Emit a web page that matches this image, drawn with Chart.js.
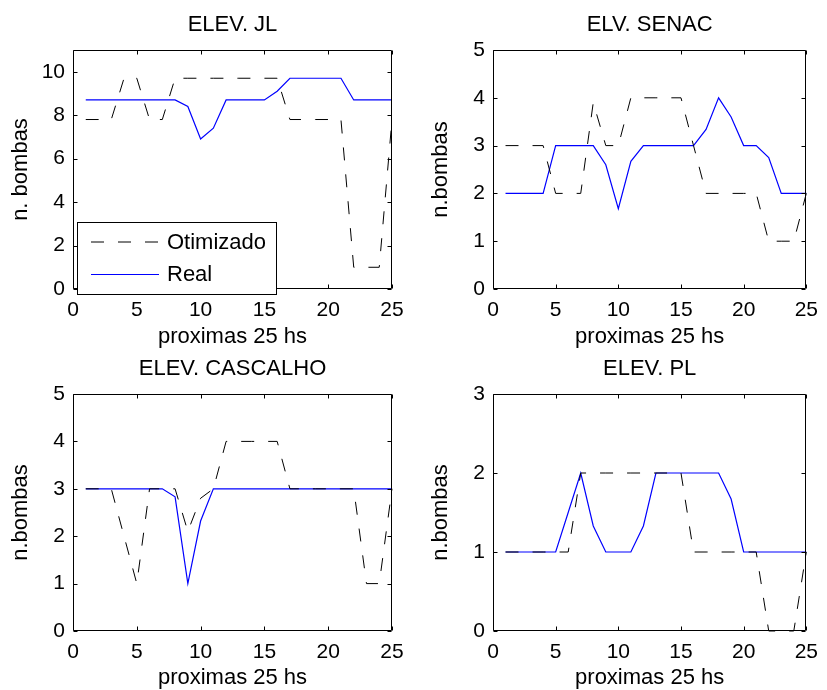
<!DOCTYPE html>
<html lang="pt">
<head>
<meta charset="UTF-8">
<title>n. bombas - proximas 25 hs</title>
<script src="https://cdn.jsdelivr.net/npm/chart.js"></script>
<style>
  body { margin: 0; background: #fff; overflow: hidden; }
  .plot { position: absolute; }
</style>
</head>
<body>
<div class="plot" style="left:0;top:0;width:413px;height:350px"><canvas id="c1"></canvas></div>
<div class="plot" style="left:420px;top:0;width:407px;height:350px"><canvas id="c2"></canvas></div>
<div class="plot" style="left:0;top:345px;width:413px;height:350px"><canvas id="c3"></canvas></div>
<div class="plot" style="left:420px;top:345px;width:407px;height:350px"><canvas id="c4"></canvas></div>

<script>
// hours and x ticks
const hours = [1, 2, 3, 4, 5, 6, 7, 8, 9, 10, 11, 12, 13, 14, 15, 16, 17, 18, 19, 20, 21, 22, 23, 24, 25];
const xTicks = [0, 5, 10, 15, 20, 25];

// ELEV. JL
const jlOtimizado = [7.8, 7.8, 7.8, 9.7, 9.7, 7.8, 7.8, 9.7, 9.7, 9.7, 9.7, 9.7, 9.7, 9.7, 9.7, 9.7, 7.8, 7.8, 7.8, 7.8, 7.8, 1.0, 1.0, 1.0, 7.8];
const jlReal      = [8.7, 8.7, 8.7, 8.7, 8.7, 8.7, 8.7, 8.7, 8.4, 6.9, 7.4, 8.7, 8.7, 8.7, 8.7, 9.1, 9.7, 9.7, 9.7, 9.7, 9.7, 8.7, 8.7, 8.7, 8.7];
const jlTicks = [0, 2, 4, 6, 8, 10];

// ELV. SENAC
const senacOtimizado = [3, 3, 3, 3, 2, 2, 2, 3.9, 3, 3, 4, 4, 4, 4, 4, 3, 2, 2, 2, 2, 2, 1, 1, 1, 2];
const senacReal      = [2, 2, 2, 2, 3, 3, 3, 3, 2.6, 1.68, 2.67, 3, 3, 3, 3, 3, 3.34, 4, 3.6, 3, 3, 2.75, 2, 2, 2];
const senacTicks = [0, 1, 2, 3, 4, 5];

// ELEV. CASCALHO
const cascOtimizado = [3, 3, 3, 2, 1, 3, 3, 3, 2.1, 2.8, 3, 4, 4, 4, 4, 4, 3, 3, 3, 3, 3, 3, 1, 1, 3];
const cascReal      = [3, 3, 3, 3, 3, 3, 3, 2.83, 1, 2.32, 3, 3, 3, 3, 3, 3, 3, 3, 3, 3, 3, 3, 3, 3, 3];
const cascTicks = [0, 1, 2, 3, 4, 5];

// ELEV. PL
const plOtimizado = [1, 1, 1, 1, 1, 1, 2, 2, 2, 2, 2, 2, 2, 2, 2, 1, 1, 1, 1, 1, 1, 0, 0, 0, 1];
const plReal      = [1, 1, 1, 1, 1, 1.5, 2, 1.33, 1, 1, 1, 1.33, 2, 2, 2, 2, 2, 2, 1.67, 1, 1, 1, 1, 1, 1];
const plTicks = [0, 1, 2, 3];

const FONT = '"Liberation Sans", Arial, Helvetica, sans-serif';

// box with inward ticks on all four sides (matlab look)
const boxTicks = {
  id: 'boxTicks',
  afterDraw(chart) {
    const { ctx, chartArea: a, scales: { x, y } } = chart;
    const L = Math.round(a.left) + 0.5, R = Math.round(a.right) - 0.5;
    const T = Math.round(a.top) + 0.5, B = Math.round(a.bottom) - 0.5;
    ctx.save();
    ctx.strokeStyle = '#000';
    ctx.lineWidth = 1;
    ctx.beginPath();
    ctx.rect(L, T, R - L, B - T);
    x.ticks.forEach(t => {
      const px = Math.round(x.getPixelForValue(t.value)) + 0.5;
      ctx.moveTo(px, B); ctx.lineTo(px, B - 4);
      ctx.moveTo(px, T); ctx.lineTo(px, T + 4);
    });
    y.ticks.forEach(t => {
      const py = Math.round(y.getPixelForValue(t.value)) + 0.5;
      ctx.moveTo(L, py); ctx.lineTo(L + 4, py);
      ctx.moveTo(R, py); ctx.lineTo(R - 4, py);
    });
    ctx.stroke();
    ctx.restore();
  }
};

// legend box in the lower left corner
const boxLegend = {
  id: 'boxLegend',
  afterDraw(chart, args, opts) {
    if (!opts.show) return;
    const { ctx, chartArea: a } = chart;
    const left = Math.round(a.left) + 4, top = Math.round(a.bottom) - 67;
    const w = 199, h = 72;
    ctx.save();
    ctx.fillStyle = '#fff';
    ctx.fillRect(left, top, w, h);
    ctx.strokeStyle = '#000';
    ctx.lineWidth = 1;
    ctx.strokeRect(left + 0.5, top + 0.5, w, h);
    chart.data.datasets.forEach((ds, i) => {
      const yy = top + 20 + i * 32.5;
      ctx.beginPath();
      ctx.setLineDash(ds.borderDash || []);
      ctx.strokeStyle = ds.borderColor;
      ctx.lineWidth = ds.borderWidth;
      ctx.moveTo(left + 14, yy);
      ctx.lineTo(left + 82, yy);
      ctx.stroke();
      ctx.setLineDash([]);
      ctx.fillStyle = '#000';
      ctx.font = '22px ' + FONT;
      ctx.textBaseline = 'middle';
      ctx.textAlign = 'left';
      ctx.fillText(ds.label, left + 90, yy + 0.5);
    });
    ctx.restore();
  }
};

function makeChart(id, o) {
  return new Chart(document.getElementById(id), {
    type: 'line',
    data: {
      labels: hours,
      datasets: [
        {
          label: 'Otimizado',
          data: hours.map((h, i) => ({ x: h, y: o.otim[i] })),
          borderColor: '#000',
          borderWidth: 1,
          borderDash: [13, 14],
          pointRadius: 0,
          tension: 0,
          clip: 2
        },
        {
          label: 'Real',
          data: hours.map((h, i) => ({ x: h, y: o.real[i] })),
          borderColor: '#0000ff',
          borderWidth: 1.2,
          pointRadius: 0,
          tension: 0,
          clip: 2
        }
      ]
    },
    options: {
      responsive: true,
      maintainAspectRatio: false,
      animation: false,
      devicePixelRatio: 1,
      layout: { padding: { left: 0, top: 0, bottom: 0, right: o.padRight } },
      plugins: {
        legend: { display: false },
        tooltip: { enabled: false },
        title: {
          display: true,
          fullSize: false,
          text: o.title,
          color: '#000',
          font: { family: FONT, size: 22, weight: 'normal' },
          padding: o.titlePad
        },
        boxLegend: { show: !!o.legend }
      },
      scales: {
        x: {
          type: 'linear',
          min: 0,
          max: 25,
          afterBuildTicks: s => { s.ticks = xTicks.map(v => ({ value: v })); },
          afterFit: s => { s.height = o.xHeight; },
          grid: { display: false, drawTicks: false },
          border: { display: false },
          ticks: { color: '#000', padding: 9, maxRotation: 0, font: { family: FONT, size: 21 } },
          title: {
            display: true,
            text: 'proximas 25 hs',
            color: '#000',
            font: { family: FONT, size: 22 },
            padding: { top: 0, bottom: o.xTitlePad }
          }
        },
        y: {
          type: 'linear',
          min: 0,
          max: o.yMax,
          afterBuildTicks: s => { s.ticks = o.yTicks.map(v => ({ value: v })); },
          afterFit: s => { s.width = 73; },
          grid: { display: false, drawTicks: false },
          border: { display: false },
          ticks: { color: '#000', padding: 8, font: { family: FONT, size: 21 } },
          title: {
            display: true,
            text: o.yLabel,
            color: '#000',
            font: { family: FONT, size: 22 },
            padding: { top: 8, bottom: 0 }
          }
        }
      }
    },
    plugins: [boxTicks, boxLegend]
  });
}

makeChart('c1', {
  title: 'ELEV. JL', yLabel: 'n. bombas', yMax: 11, yTicks: jlTicks,
  otim: jlOtimizado, real: jlReal, legend: true,
  padRight: 21, xHeight: 61, xTitlePad: 0, titlePad: { top: 12, bottom: 11.6 }
});
makeChart('c2', {
  title: 'ELV. SENAC', yLabel: 'n.bombas', yMax: 5, yTicks: senacTicks,
  otim: senacOtimizado, real: senacReal,
  padRight: 16, xHeight: 61, xTitlePad: 0, titlePad: { top: 12, bottom: 11.6 }
});
makeChart('c3', {
  title: 'ELEV. CASCALHO', yLabel: 'n.bombas', yMax: 5, yTicks: cascTicks,
  otim: cascOtimizado, real: cascReal,
  padRight: 21, xHeight: 64, xTitlePad: 3.6, titlePad: { top: 10.3, bottom: 12.3 }
});
makeChart('c4', {
  title: 'ELEV. PL', yLabel: 'n.bombas', yMax: 3, yTicks: plTicks,
  otim: plOtimizado, real: plReal,
  padRight: 16, xHeight: 64, xTitlePad: 3.6, titlePad: { top: 10.3, bottom: 12.3 }
});
</script>
</body>
</html>
